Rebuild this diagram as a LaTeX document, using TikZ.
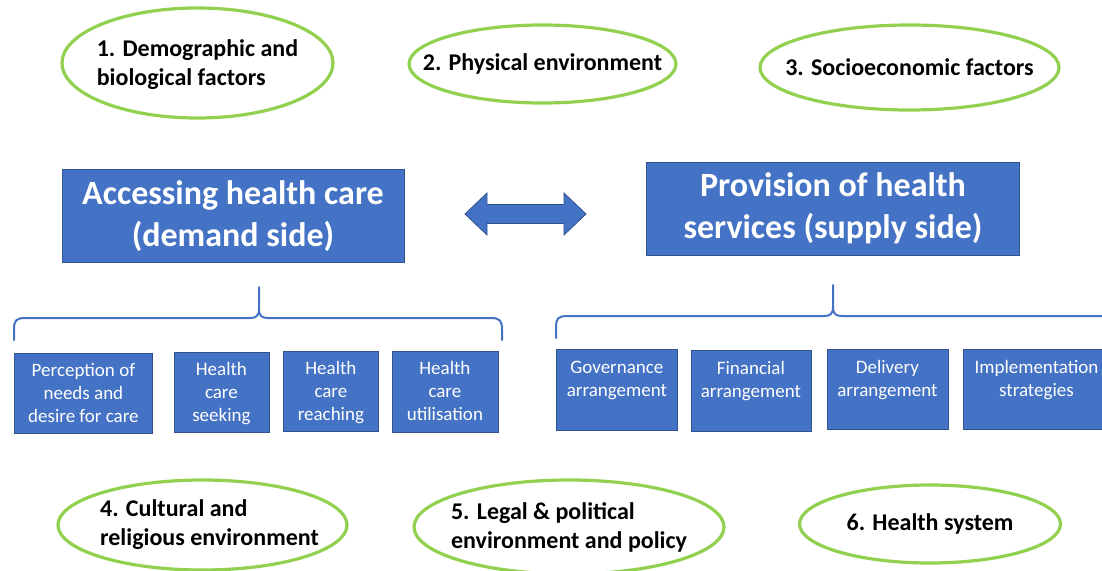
\documentclass[tikz,border=0pt]{standalone}
\usepackage{fontspec}
\setmainfont{Carlito}
\usetikzlibrary{shapes.geometric}
\definecolor{bluefill}{HTML}{4472C4}
\definecolor{blueedge}{HTML}{2F528F}
\definecolor{greenedge}{HTML}{92D050}
\begin{document}
\begin{tikzpicture}[x=1pt,y=-1pt,
  factor/.style={ellipse, draw=greenedge, line width=3.2pt, fill=white, inner sep=0},
  factortext/.style={align=left, inner sep=0, font=\fontsize{24}{29}\selectfont\bfseries},
  bigbox/.style={rectangle, draw=blueedge, line width=0.8pt, fill=bluefill, text=white, align=center, inner sep=0, font=\fontsize{34}{42}\selectfont\bfseries},
  smallbox/.style={rectangle, draw=blueedge, line width=0.8pt, fill=bluefill, inner sep=0, anchor=north west},
  smalltext/.style={text=white, align=center, inner sep=0, anchor=north, font=\fontsize{19}{23}\selectfont},
  bracket/.style={draw=bluefill, line width=2pt},
  dblarrow/.style={draw=blueedge, line width=0.8pt, fill=bluefill}
]
\path[use as bounding box] (0,0) rectangle (1102,570);
\clip (0,0) rectangle (1102,570);

% factor ellipses
\node[factor, minimum width=271, minimum height=110] (e1) at (197.5,63) {};
\node[factortext] (e1t) at ([yshift=-1.5]e1.center) {1. Demographic and\\biological factors};
\node[factor, minimum width=267, minimum height=78] (e2) at (542.5,64) {};
\node[factortext] (e2t) at (e2.center) {2. Physical environment};
\node[factor, minimum width=299, minimum height=85] (e3) at (909.5,67.5) {};
\node[factortext] (e3t) at (e3.center) {3. Socioeconomic factors};
\node[factor, minimum width=289, minimum height=90] (e4) at (202.5,525) {};
\node[factortext] (e4t) at ([xshift=7]e4.center) {4. Cultural and\\religious environment};
\node[factor, minimum width=310, minimum height=94] (e5) at (569,527) {};
\node[factortext] (e5t) at (e5.center) {5. Legal \& political\\environment and policy};
\node[factor, minimum width=261, minimum height=78] (e6) at (930,524) {};
\node[factortext] (e6t) at (e6.center) {6. Health system};

% main boxes
\node[bigbox, minimum width=342, minimum height=93] (demand) at (233,216) {Accessing health care\\(demand side)};
\node[bigbox, minimum width=373, minimum height=93] (supply) at (833,208.5) {Provision of health\\services (supply side)};

% double arrow
\draw[dblarrow] (465,214) -- (487,193) -- (487,204.5) -- (564,204.5) -- (564,193) -- (586,214)
  -- (564,235) -- (564,223.5) -- (487,223.5) -- (487,235) -- cycle;

% brackets
\draw[bracket, line cap=round] (14,340) -- (14,330) .. controls (14,320) and (16,318) .. (26,318) -- (250,318)
  .. controls (256,318) and (259,316) .. (259,309) -- (259,287);
\draw[bracket, line cap=round] (259,309) .. controls (259,316) and (262,318) .. (268,318) -- (490,318)
  .. controls (500,318) and (502,320) .. (502,330) -- (502,340);
\draw[bracket, line cap=round] (556,338) -- (556,328) .. controls (556,318) and (558,316) .. (568,316) -- (824,316)
  .. controls (830,316) and (833,314) .. (833,307) -- (833,285);
\draw[bracket] (833,307) .. controls (833,314) and (836,316) .. (842,316) -- (1110,316);

% demand side boxes
\node[smallbox, minimum width=138, minimum height=80] (d1) at (14,352.7) {};
\node[smalltext] (d1t) at ([yshift=-10]d1.north) {Perception of\\needs and\\desire for care};
\node[smallbox, minimum width=95, minimum height=80] (d2) at (173.5,351.7) {};
\node[smalltext] (d2t) at ([yshift=-10]d2.north) {Health\\care\\seeking};
\node[smallbox, minimum width=95, minimum height=80] (d3) at (283,350.7) {};
\node[smalltext] (d3t) at ([yshift=-10]d3.north) {Health\\care\\reaching};
\node[smallbox, minimum width=106, minimum height=81] (d4) at (391.5,350.7) {};
\node[smalltext] (d4t) at ([yshift=-10]d4.north) {Health\\care\\utilisation};

% supply side boxes
\node[smallbox, minimum width=121, minimum height=81] (s1) at (556,349.3) {};
\node[smalltext] (s1t) at ([yshift=-11.5]s1.north) {Governance\\arrangement};
\node[smallbox, minimum width=120, minimum height=81] (s2) at (690.5,350) {};
\node[smalltext] (s2t) at ([yshift=-11.5]s2.north) {Financial\\arrangement};
\node[smallbox, minimum width=121, minimum height=80] (s3) at (826.5,349) {};
\node[smalltext] (s3t) at ([yshift=-11.5]s3.north) {Delivery\\arrangement};
\node[smallbox, minimum width=148, minimum height=80] (s4) at (962.5,349) {};
\node[smalltext] (s4t) at ([xshift=74,yshift=-11.5]s4.north west) {Implementation\\strategies};
\end{tikzpicture}
\end{document}
